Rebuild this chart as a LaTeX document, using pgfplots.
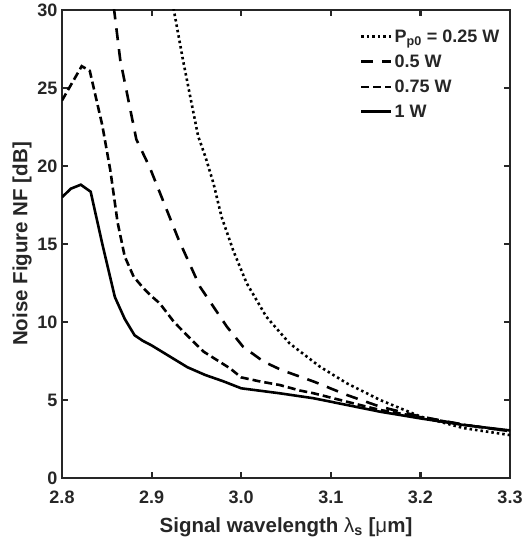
\documentclass[border=0pt]{standalone}
\usepackage{pgfplots}
\pgfplotsset{compat=1.18}
\usepackage{fontspec}
\setmainfont{Liberation Sans}
\definecolor{axgray}{RGB}{38,38,38}

\begin{document}
\begin{tikzpicture}[font=\fontsize{18}{21}\selectfont\bfseries]
\begin{axis}[
  scale only axis,
  width=448pt, height=468pt,
  xmin=2.8, xmax=3.3, ymin=0, ymax=30,
  xtick={2.8,2.9,3.0,3.1,3.2,3.3},
  ytick={0,5,...,30},
  tick align=inside,
  major tick length=6pt,
  axis line style={axgray, line width=2.2pt},
  every tick/.style={axgray, line width=2.2pt},
  tick label style={text=axgray},
  /pgf/number format/assume math mode=true,
  xticklabel style={yshift=-9pt, /pgf/number format/.cd, fixed, fixed zerofill, precision=1},
  yticklabel style={xshift=-1pt},
  xlabel={Signal wavelength {\mdseries λ}\textsubscript{s} [{\mdseries μ}m]},
  ylabel={Noise Figure NF [dB]},
  xlabel style={at={(axis description cs:0.5,-0.105)}, anchor=center, text=axgray, font=\fontsize{20.5}{24}\selectfont\bfseries},
  ylabel style={at={(axis description cs:-0.0893,0.5)}, anchor=center, text=axgray, font=\fontsize{20.5}{24}\selectfont\bfseries},
  legend style={draw=none, fill=none, at={(axis description cs:0.658,0.967)}, anchor=north west, row sep=7pt, text=axgray},
  legend cell align=left,
  legend image code/.code={\draw[#1] (0pt,0pt) -- (30pt,0pt);},
  every axis plot/.append style={line width=2.6pt, black},
]
\addplot[dash pattern=on 2.5pt off 3pt] coordinates {
(2.920,31.5) (2.935,26.8) (2.945,23.9) (2.952,21.9) (2.960,20.6) (2.969,18.9)
(2.978,16.75) (2.991,14.6) (3.006,12.5) (3.028,10.34) (3.054,8.63) (3.088,7.13)
(3.118,6.07) (3.155,5.0) (3.200,3.94) (3.248,3.2) (3.300,2.75)};
\addlegendentry{P\textsubscript{p0} = 0.25 W}
\addplot[dash pattern=on 12pt off 9pt] coordinates {
(2.855,31.5) (2.865,26.8) (2.883,21.7) (2.898,19.9) (2.930,15.3) (2.954,12.26)
(2.984,9.7) (3.002,8.42) (3.025,7.46) (3.045,6.92) (3.081,6.18) (3.118,5.32)
(3.155,4.57) (3.200,3.94) (3.250,3.4) (3.300,3.0)};
\addlegendentry{0.5 W}
\addplot[dash pattern=on 8pt off 4pt] coordinates {
(2.800,24.2) (2.822,26.4) (2.831,26.1) (2.845,22.6) (2.854,19.7) (2.862,16.4)
(2.870,14.2) (2.880,12.9) (2.891,12.16) (2.899,11.7) (2.909,11.2) (2.925,10.0)
(2.941,9.06) (2.958,8.1) (2.9875,7.03) (3.000,6.45) (3.020,6.2) (3.043,5.96)
(3.066,5.6) (3.081,5.43) (3.118,4.89) (3.155,4.36) (3.200,3.9) (3.250,3.4) (3.300,3.0)};
\addlegendentry{0.75 W}
\addplot[solid] coordinates {
(2.800,18.0) (2.810,18.55) (2.821,18.8) (2.832,18.35) (2.845,15.0) (2.859,11.6)
(2.870,10.2) (2.881,9.15) (2.890,8.8) (2.900,8.5) (2.920,7.8) (2.940,7.1)
(2.960,6.6) (2.980,6.2) (3.000,5.75) (3.043,5.43) (3.081,5.11) (3.118,4.68)
(3.155,4.25) (3.200,3.82) (3.248,3.4) (3.300,3.05)};
\addlegendentry{1 W}
\end{axis}
\pgfresetboundingbox
\path ([shift={(-62pt,-67pt)}]current axis.south west) rectangle ([shift={(13pt,10pt)}]current axis.north east);
\end{tikzpicture}
\end{document}
